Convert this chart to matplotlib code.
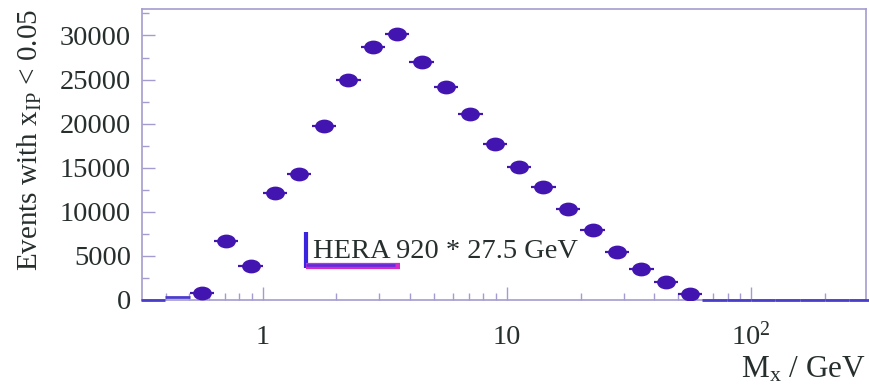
import numpy as np
import matplotlib.pyplot as plt
from matplotlib.path import Path
from matplotlib.transforms import Affine2D

# Mx bin centres (GeV), 0.1 decade wide bins
mx_centers = [0.355, 0.447, 0.562, 0.708, 0.891, 1.12, 1.41, 1.78, 2.24, 2.82,
              3.55, 4.47, 5.62, 7.08, 8.91, 11.2, 14.1, 17.8, 22.4, 28.2,
              35.5, 44.7, 56.2, 70.8, 89.1, 112, 141, 178, 224, 282]
events = [0, 300, 830, 6740, 3900, 12190, 14240, 19770, 25000, 28670,
          30110, 26960, 24170, 21140, 17730, 15080, 12810, 10340, 7950, 5490,
          3490, 2080, 680, 0, 0, 0, 0, 0, 0, 0]

x_ticks = [1, 10, 100]
x_ticklabels = ["1", "10", r"$\mathregular{10^{2}}$"]

plt.rcParams.update({
    "font.family": "Liberation Serif",
    "mathtext.fontset": "custom",
    "mathtext.rm": "Liberation Serif",
    "mathtext.it": "Liberation Serif:italic",
})

txt_col = "#262e2e"
frame_col = "#a49cd0"
pt_col = "#4214b0"

x = np.array(mx_centers)
y = np.array(events)
half = 10 ** 0.05
xerr = np.vstack([x - x / half, x * half - x])

# slightly flattened round marker
ellipse = Path.unit_circle().transformed(Affine2D().scale(1.4, 1.0))

fig = plt.figure(figsize=(8.7, 3.92), dpi=100)
ax = fig.add_axes([0.1632, 0.2347, 0.8322, 0.7423])

filled = y >= 500
ax.errorbar(x[filled], y[filled], xerr=xerr[:, filled], fmt="none",
            ecolor=pt_col, elinewidth=1.6, zorder=3)
ax.plot(x[filled], y[filled], linestyle="none", marker=ellipse, ms=12.5,
        color=pt_col, zorder=4)
ax.errorbar(x[~filled], y[~filled], xerr=xerr[:, ~filled], fmt="none",
            ecolor="#4c3ccc", elinewidth=2.0, zorder=3, clip_on=False)

ax.set_xscale("log")
ax.set_xlim(0.32, 295)
ax.set_ylim(0, 33000)

ax.set_xticks(x_ticks)
ax.set_xticklabels(x_ticklabels)
ax.set_yticks(np.arange(0, 30001, 5000))
ax.set_yticks(np.arange(0, 32501, 2500), minor=True)

ax.tick_params(which="both", direction="in", colors=frame_col,
               labelcolor=txt_col, labelsize=20.5, top=False, right=False)
ax.tick_params(which="major", length=9.5, width=1.0)
ax.tick_params(which="minor", length=5, width=1.0)
ax.tick_params(axis="y", pad=8)
ax.tick_params(axis="x", pad=32)
for lbl in ax.get_xticklabels():
    lbl.set_va("baseline")

for sp in ax.spines.values():
    sp.set_color(frame_col)
    sp.set_linewidth(1.2)

ax.set_ylabel(r"Events with x$_{\mathregular{IP}}$ < 0.05", fontsize=21,
              color=txt_col, loc="top")
ax.yaxis.set_label_coords(-0.136, 1.0)
ax.set_xlabel(r"M$_{\mathregular{x}}$ / GeV", fontsize=22.5, color=txt_col,
              loc="right")
ax.xaxis.set_label_coords(1.0, -0.265)
ax.xaxis.label.set_va("baseline")

# beam energy tag with hand-drawn style marker
ax.plot([0.2265, 0.2265], [0.110, 0.234], transform=ax.transAxes,
        color="#3a24e0", lw=3, solid_capstyle="butt")
ax.plot([0.2265, 0.356], [0.117, 0.117], transform=ax.transAxes,
        color="#d42ac8", lw=4.5, solid_capstyle="butt")
ax.plot([0.2265, 0.35], [0.119, 0.119], transform=ax.transAxes,
        color="#5030e0", lw=1.8, solid_capstyle="butt")
ax.text(0.236, 0.144, "HERA 920 * 27.5 GeV", transform=ax.transAxes,
        fontsize=20.5, color=txt_col, va="baseline", ha="left")

fig.savefig("out.png", dpi=100)
